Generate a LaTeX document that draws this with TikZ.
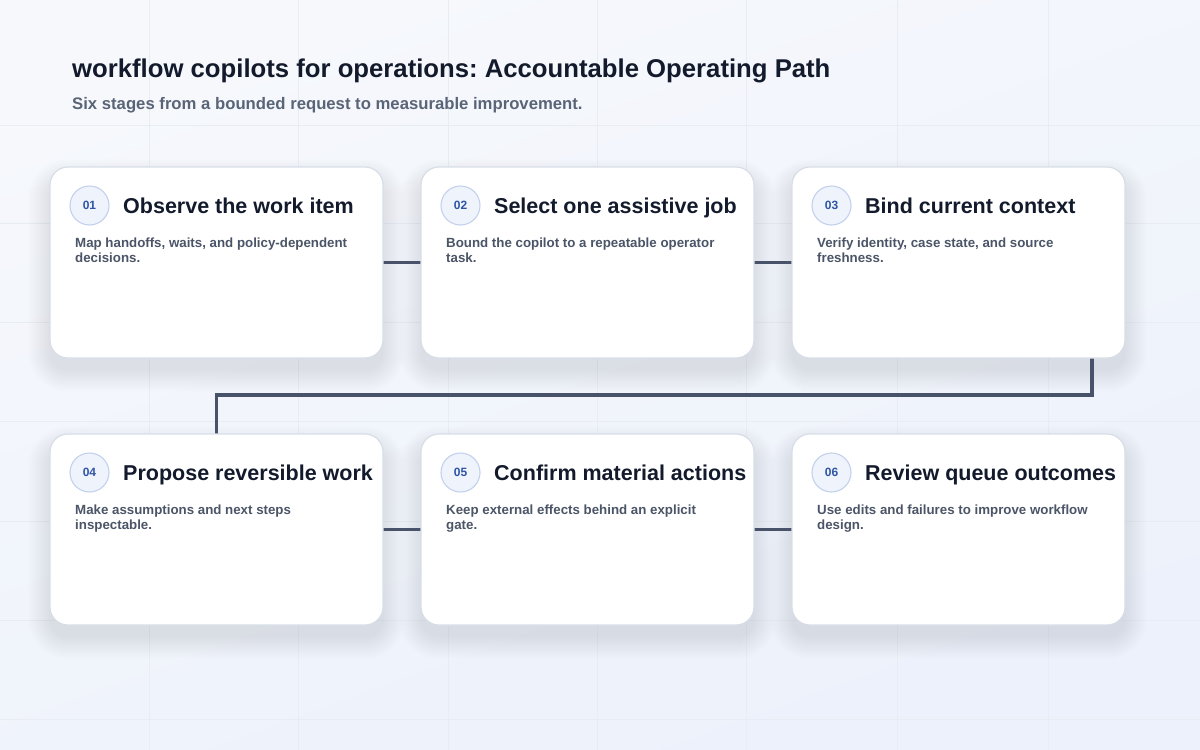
\documentclass[tikz,border=0pt]{standalone}
\usepackage{fontspec}
\setmainfont{Liberation Sans}
\frenchspacing
\definecolor{bgA}{HTML}{F6F8FC}
\definecolor{bgB}{HTML}{ECF1FB}
\definecolor{gridc}{HTML}{E8ECF3}
\definecolor{cardborder}{HTML}{D8DEE8}
\definecolor{titlec}{HTML}{121A2C}
\definecolor{subc}{HTML}{5A6477}
\definecolor{descc}{HTML}{4B5567}
\definecolor{connc}{HTML}{48536A}
\definecolor{badgefill}{HTML}{EEF3FC}
\definecolor{badgeline}{HTML}{C3D1EC}
\definecolor{badgetext}{HTML}{2F55A6}
\definecolor{shadowc}{HTML}{8692AC}
\pgfdeclarelayer{bglayer}
\pgfdeclarelayer{shadowlayer}
\pgfsetlayers{bglayer,shadowlayer,main}
\tikzset{
  card/.style={draw=cardborder, line width=1.2pt, fill=white, rounded corners=18pt,
    minimum width=333pt, minimum height=191pt, inner sep=0pt, outer sep=0pt},
  badge/.style={circle, draw=badgeline, line width=1.1pt, fill=badgefill, minimum size=39pt, inner sep=0pt,
    font=\fontsize{12}{13}\selectfont\bfseries, text=badgetext},
  cardtitle/.style={anchor=base west, inner sep=0pt, font=\fontsize{21.5}{26}\selectfont\bfseries, text=titlec},
  carddesc/.style={anchor=north west, inner sep=0pt, align=left, font=\fontsize{13.3}{15}\selectfont\bfseries, text=descc},
  conn/.style={draw=connc, line width=3.8pt},
  gridline/.style={draw=gridc, line width=0.8pt},
}
\begin{document}
\begin{tikzpicture}[x=1pt,y=-1pt]
\useasboundingbox (0,0) rectangle (1200,750);
\begin{pgfonlayer}{bglayer}
\shade[top color=bgA, bottom color=bgB, shading angle=20] (0,0) rectangle (1200,750);
\foreach \gx in {149,298,448,597,746,897,1048} \draw[gridline] (\gx,0) -- (\gx,750);
\foreach \gy in {125,223,322,421,521,620,719} \draw[gridline] (0,\gy) -- (1200,\gy);
\end{pgfonlayer}

\node[anchor=base west, inner sep=0pt, font=\fontsize{25.7}{30}\selectfont\bfseries, text=titlec] (title) at (72,77) {workflow copilots for operations: Accountable Operating Path};
\node[anchor=base west, inner sep=0pt, font=\fontsize{16.7}{20}\selectfont\bfseries, text=subc] (subtitle) at (72,109) {Six stages from a bounded request to measurable improvement.};

\coordinate (c1e) at (383,262.5);
\coordinate (c2w) at (421,262.5);
\coordinate (c2e) at (754,262.5);
\coordinate (c3w) at (792,262.5);
\coordinate (c4e) at (383,529.5);
\coordinate (c5w) at (421,529.5);
\coordinate (c5e) at (754,529.5);
\coordinate (c6w) at (792,529.5);
\coordinate (c3s) at (1092,357);
\coordinate (c4n) at (216.5,435);

\begin{pgfonlayer}{shadowlayer}
\draw[conn] (c1e) -- (c2w);
\draw[conn] (c2e) -- (c3w);
\draw[conn] (c4e) -- (c5w);
\draw[conn] (c5e) -- (c6w);
\draw[conn] (c3s) -- (1092,395) -| (c4n);
\end{pgfonlayer}

\node[card] (c1) at (216.5,262.5) {};
\node[card] (c2) at (587.5,262.5) {};
\node[card] (c3) at (958.5,262.5) {};
\node[card] (c4) at (216.5,529.5) {};
\node[card] (c5) at (587.5,529.5) {};
\node[card] (c6) at (958.5,529.5) {};

\begin{pgfonlayer}{shadowlayer}
\foreach \c in {c1,c2,c3,c4,c5,c6}{
  \foreach \k in {0,...,22}{
    \pgfmathsetmacro\rr{18+\k}
    \fill[shadowc, fill opacity=0.009, rounded corners=\rr pt]
      ([shift={(-\k,14-\k)}]\c.north west) rectangle ([shift={(\k,12+\k)}]\c.south east);
  }
}
\end{pgfonlayer}

% card 1
\node[badge] (b1) at (89.5,205.5) {01};
\node[cardtitle] (t1) at (123,213) {Observe the work item};
\node[carddesc] (d1) at (75,237.5) {Map handoffs, waits, and policy-dependent\\decisions.};
% card 2
\node[badge] (b2) at (460.5,205.5) {02};
\node[cardtitle] (t2) at (494,213) {Select one assistive job};
\node[carddesc] (d2) at (446,237.5) {Bound the copilot to a repeatable operator\\task.};
% card 3
\node[badge] (b3) at (831.5,205.5) {03};
\node[cardtitle] (t3) at (865,213) {Bind current context};
\node[carddesc] (d3) at (817,237.5) {Verify identity, case state, and source\\freshness.};
% card 4
\node[badge] (b4) at (89.5,472.5) {04};
\node[cardtitle] (t4) at (123,480) {Propose reversible work};
\node[carddesc] (d4) at (75,504.5) {Make assumptions and next steps\\inspectable.};
% card 5
\node[badge] (b5) at (460.5,472.5) {05};
\node[cardtitle] (t5) at (494,480) {Confirm material actions};
\node[carddesc] (d5) at (446,504.5) {Keep external effects behind an explicit\\gate.};
% card 6
\node[badge] (b6) at (831.5,472.5) {06};
\node[cardtitle] (t6) at (865,480) {Review queue outcomes};
\node[carddesc] (d6) at (817,504.5) {Use edits and failures to improve workflow\\design.};
\end{tikzpicture}
\end{document}
